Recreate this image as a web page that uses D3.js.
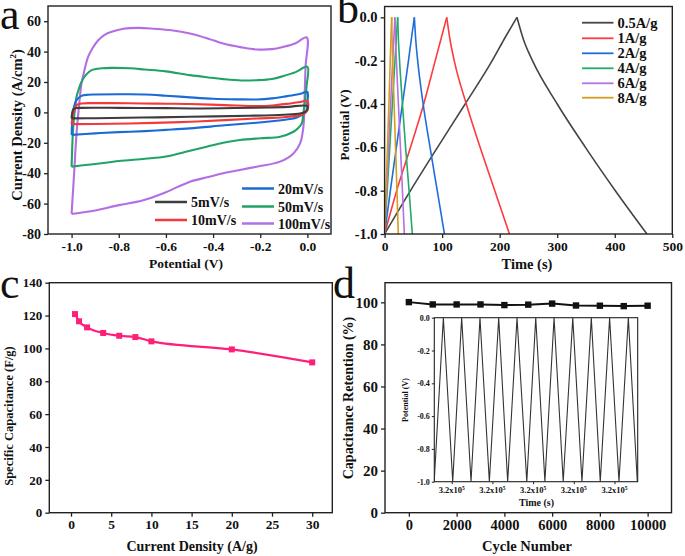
<!DOCTYPE html>
<html><head><meta charset="utf-8">
<script src="https://cdn.jsdelivr.net/npm/d3@7"></script>
<style>
body{margin:0;background:#fff}
svg{display:block}
text{font-family:"Liberation Serif","Times New Roman",serif;font-weight:bold;fill:#111}
</style>
</head><body>
<svg id="fig" width="685" height="556"></svg>
<script>
// ---------------- DATA ----------------
// (a) CV loops: [potential V, current density]
const cvLabels = ["5mV/s","10mV/s","20mV/s","50mV/s","100mV/s"];
const cv5 = [[-1.0,-3.9],[-0.998,-1],[-0.993,2.0],[-0.985,2.8],[-0.96,3.0],[-0.8,3.0],[-0.6,2.8],[-0.477,2.6],[-0.3,2.9],[-0.1,3.5],[0,4.1],[-0.003,1.5],[-0.01,0.4],[-0.031,-0.7],[-0.1,-1.5],[-0.25,-2.2],[-0.498,-2.9],[-0.7,-3.4],[-0.9,-3.8],[-1.0,-3.9]];
const cv10 = [[-1.0,-7.7],[-0.996,-3],[-0.993,-0.7],[-0.985,3],[-0.979,4.8],[-0.958,5.9],[-0.9,6.1],[-0.83,6.1],[-0.7,5.9],[-0.6,5.7],[-0.498,5.5],[-0.35,4.8],[-0.215,4.1],[-0.15,4.5],[-0.073,5.9],[-0.03,6.8],[0,7.6],[0,1.5],[-0.015,-0.8],[-0.031,-1.8],[-0.1,-3.2],[-0.215,-4],[-0.35,-5.1],[-0.498,-6.2],[-0.65,-6.9],[-0.83,-7.5],[-1.0,-7.7]];
const cv20 = [[-1.0,-14.8],[-0.997,-5],[-0.993,1.5],[-0.979,8.1],[-0.958,10.9],[-0.93,11.6],[-0.901,11.8],[-0.8,11.9],[-0.689,11.8],[-0.6,11],[-0.498,9.9],[-0.4,9],[-0.3,8.6],[-0.215,8.5],[-0.15,9.2],[-0.102,10.3],[-0.05,11.6],[-0.024,12.5],[0,13.5],[-0.001,5],[0,1.5],[-0.012,-0.5],[-0.024,-1.8],[-0.045,-3.3],[-0.073,-4.4],[-0.15,-5.8],[-0.215,-6.8],[-0.35,-8.5],[-0.498,-10.5],[-0.6,-11.5],[-0.689,-12.3],[-0.8,-13],[-0.901,-13.8],[-1.0,-14.8]];
const cv50 = [[-1.0,-35.7],[-0.993,-9.5],[-0.985,3],[-0.979,10.3],[-0.968,16],[-0.958,20.1],[-0.94,24.5],[-0.915,27.8],[-0.87,29],[-0.83,29.3],[-0.75,29],[-0.689,28.2],[-0.6,27],[-0.498,24.5],[-0.42,23],[-0.357,21.9],[-0.28,21],[-0.215,21.2],[-0.15,22],[-0.102,23.9],[-0.05,26.5],[0,30],[-0.003,18],[-0.01,8],[-0.018,-2],[-0.024,-7.2],[-0.04,-10.5],[-0.059,-12.7],[-0.116,-16],[-0.2,-17],[-0.286,-18.2],[-0.357,-20],[-0.427,-22.6],[-0.498,-25.2],[-0.6,-29],[-0.689,-30.5],[-0.8,-32],[-0.9,-34],[-1.0,-35.7]];
const cv100 = [[-1.0,-66.8],[-0.99,-42],[-0.979,-13.8],[-0.968,5],[-0.958,19],[-0.945,28],[-0.93,36.5],[-0.91,42.5],[-0.887,47.5],[-0.86,51],[-0.83,53],[-0.78,55],[-0.717,55.6],[-0.65,55],[-0.576,54],[-0.498,51.9],[-0.42,48.5],[-0.357,45.3],[-0.28,42.8],[-0.215,41.4],[-0.15,41.6],[-0.102,43.1],[-0.05,45.5],[-0.003,49.3],[-0.008,30],[-0.012,10],[-0.017,-9.4],[-0.031,-20.4],[-0.059,-27],[-0.116,-32.4],[-0.215,-35.7],[-0.357,-40],[-0.42,-42.5],[-0.498,-45.6],[-0.6,-52.5],[-0.7,-58],[-0.8,-61],[-0.9,-64.5],[-1.0,-66.8]];
const aXTicks = [-1.0,-0.8,-0.6,-0.4,-0.2,0.0];
const aYTicks = [-80,-60,-40,-20,0,20,40,60];

// (b) GCD curves: potential levels and times (s)
const gcdLabels = ["0.5A/g","1A/g","2A/g","4A/g","6A/g","8A/g"];
const chargeV = [-1,-0.8,-0.6,-0.4,-0.2,-0.1,0];
const dischargeV = [0,-0.1,-0.2,-0.4,-0.6,-0.8,-1];
const charge05 = [0,45,92,140,187,208,230];
const discharge05 = [230,241,257,300,349,401,456];
const charge1 = [0,21,45,68,88,98,108];
const discharge1 = [108,113.5,121,142,166,191.5,217];
const charge2 = [0,10,20.5,31,41.5,46.5,51.7];
const discharge2 = [51.7,54,57.5,67,79,91.5,104];
const charge4 = [0,4.5,9,13.5,18,20.3,22.7];
const discharge4 = [22.7,24,26,31,36.5,42.5,48.2];
const charge6 = [0,3.5,7,10.5,14,16,18];
const discharge6 = [18,19,20.5,24,27.5,31,34.3];
const charge8 = [0,2.5,5,7.5,9.8,11,12.3];
const discharge8 = [12.3,13,14,16.5,19,21.5,23.8];
const bXTicks = [0,100,200,300,400,500];
const bYTicks = [-1.0,-0.8,-0.6,-0.4,-0.2,0.0];

// (c) rate capability
const currentDensity = [0.5,1,2,4,6,8,10,20,30];
const capacitance = [120.9,116.5,112.8,109.4,107.7,106.9,104.3,99.4,91.5];
const cXTicks = [0,5,10,15,20,25,30];
const cYTicks = [0,20,40,60,80,100,120,140];

// (d) cycling
const cycles = [0,1000,2000,3000,4000,5000,6000,7000,8000,9000,10000];
const retention = [100.1,99.0,99.0,99.0,98.7,98.9,99.4,98.5,98.4,98.2,98.4];
const dXTicks = [0,2000,4000,6000,8000,10000];
const dYTicks = [0,20,40,60,80,100];
// inset GCD cycling
const insetT = [319514,319559,319605,319649,319695,319739,319785,319831,319875,319921,319969,320013,320058,320103,320148,320195,320240,320286,320330,320376,320422,320468,320512];
const insetV = [-1,0,-1,0,-1,0,-1,0,-1,0,-1,0,-1,0,-1,0,-1,0,-1,0,-1,0,-1];
const insetXTicks = [319600,319800,320000,320200,320400];
const insetYTicks = [-1.0,-0.8,-0.6,-0.4,-0.2,0.0];

// ---------------- DRAW ----------------
const svg = d3.select("#fig");
const FONT = '"Liberation Serif","Times New Roman",serif';
const defs = svg.append("defs");

function clip(id, x0, y0, x1, y1){
  defs.append("clipPath").attr("id", id).append("rect")
    .attr("x", x0).attr("y", y0).attr("width", x1 - x0).attr("height", y1 - y0);
  return "url(#" + id + ")";
}
function frame(x0, y0, x1, y1, sw){
  svg.append("rect").attr("x", x0).attr("y", y0).attr("width", x1 - x0).attr("height", y1 - y0)
    .attr("fill", "none").attr("stroke", "#222").attr("stroke-width", sw || 1.4);
}
function axes(xs, ys, xt, yt, xfmt, yfmt, fsx, fsy){
  const [x0, x1] = xs.range(); const [y1, y0] = ys.range();
  const gx = svg.append("g").attr("transform", `translate(0,${y1})`)
    .call(d3.axisBottom(xs).tickValues(xt).tickFormat(xfmt).tickSize(4).tickPadding(3));
  const gy = svg.append("g").attr("transform", `translate(${x0},0)`)
    .call(d3.axisLeft(ys).tickValues(yt).tickFormat(yfmt).tickSize(4).tickPadding(3));
  [[gx, fsx], [gy, fsy]].forEach(([g, fs]) => {
    g.select(".domain").remove();
    g.attr("font-family", FONT).attr("font-size", fs).attr("font-weight", "bold");
    g.selectAll("line").attr("stroke", "#222").attr("stroke-width", 1.3);
    g.selectAll("text").attr("fill", "#111").style("font-weight", "bold");
  });
  return [gx, gy];
}
function title(txt, x, y, fs, rot){
  const t = svg.append("text").attr("text-anchor", "middle").attr("font-size", fs).text(txt);
  if (rot) t.attr("transform", `translate(${x},${y}) rotate(-90)`);
  else t.attr("x", x).attr("y", y);
  return t;
}
function panelLabel(txt, x, y, fs){
  svg.append("text").attr("x", x).attr("y", y).attr("font-size", fs || 44)
    .style("font-weight", "normal").text(txt);
}

// ===== Panel a =====
{
  const xs = d3.scaleLinear([-1.1, 0.1], [48, 331]);
  const ys = d3.scaleLinear([-80, 70], [234, 6]);
  const cp = clip("ca", 48, 6, 331, 234);
  const colors = ["#3d3d3d", "#f2393c", "#1a6bd6", "#21a366", "#b46ee3"];
  const loops = [cv5, cv10, cv20, cv50, cv100];
  const line = d3.line().x(d => xs(d[0])).y(d => ys(d[1])).curve(d3.curveCatmullRom.alpha(0.5));
  const g = svg.append("g").attr("clip-path", cp);
  [4, 3, 2, 1, 0].forEach(i => {
    g.append("path").attr("d", line(loops[i])).attr("fill", "none")
      .attr("stroke", colors[i]).attr("stroke-width", 2.1).attr("stroke-linejoin", "round");
  });
  axes(xs, ys, aXTicks, aYTicks, d => d.toFixed(1), d => String(d), 13.5, 14);
  frame(48, 6, 331, 234);
  const leg = [
    {i:0, x:155, y:202}, {i:1, x:155, y:220},
    {i:2, x:242, y:188.5}, {i:3, x:242, y:206.5}, {i:4, x:242, y:223.5}
  ];
  leg.forEach(l => {
    svg.append("line").attr("x1", l.x).attr("x2", l.x + 32).attr("y1", l.y).attr("y2", l.y)
      .attr("stroke", colors[l.i]).attr("stroke-width", 2.5);
    svg.append("text").attr("x", l.x + 36).attr("y", l.y + 5).attr("font-size", 14).text(cvLabels[l.i]);
  });
  title("Potential (V)", 186, 268, 13.5);
  const yt = svg.append("text").attr("text-anchor", "middle").attr("font-size", 14.5)
    .attr("transform", "translate(22,125) rotate(-90)");
  yt.append("tspan").text("Current Density (A/cm");
  yt.append("tspan").attr("font-size", 9).attr("dy", -6).text("2");
  yt.append("tspan").attr("dy", 6).text(")");
  panelLabel("a", 0, 29);
}

// ===== Panel b =====
{
  const xs = d3.scaleLinear([0, 500], [384.6, 672.3]);
  const ys = d3.scaleLinear([-1.0, 0.05], [234, 6.5]);
  const cp = clip("cb", 384.6, 6.5, 672.3, 234);
  const colors = ["#454545", "#ff3a3e", "#1d6ed8", "#22aa68", "#b571e2", "#d39d1f"];
  const charges = [charge05, charge1, charge2, charge4, charge6, charge8];
  const discharges = [discharge05, discharge1, discharge2, discharge4, discharge6, discharge8];
  const line = d3.line().x(d => xs(d[0])).y(d => ys(d[1])).curve(d3.curveMonotoneX);
  const g = svg.append("g").attr("clip-path", cp);
  [0, 1, 2, 3, 4, 5].forEach(i => {
    const c = charges[i].map((t, k) => [t, chargeV[k]]);
    const d = discharges[i].map((t, k) => [t, dischargeV[k]]);
    g.append("path").attr("d", line(c)).attr("fill", "none").attr("stroke", colors[i]).attr("stroke-width", 1.6);
    g.append("path").attr("d", line(d)).attr("fill", "none").attr("stroke", colors[i]).attr("stroke-width", 1.6);
  });
  axes(xs, ys, bXTicks, bYTicks, d => String(d), d => d.toFixed(1), 13.5, 14.5);
  frame(384.6, 6.5, 672.3, 234);
  gcdLabels.forEach((lab, i) => {
    const y = [22.7, 38.3, 53.3, 68.3, 83.3, 97.7][i];
    svg.append("line").attr("x1", 582).attr("x2", 613.5).attr("y1", y).attr("y2", y)
      .attr("stroke", colors[i]).attr("stroke-width", 1.8);
    svg.append("text").attr("x", 617.5).attr("y", y + 5).attr("font-size", 14.5).text(lab);
  });
  title("Time (s)", 527, 269, 14.5);
  title("Potential (V)", 349, 125, 13, true);
  panelLabel("b", 337, 23);
}

// ===== Panel c =====
{
  const xs = d3.scaleLinear([-2.7, 32.5], [49.3, 332.3]);
  const ys = d3.scaleLinear([0, 140], [512.7, 282.7]);
  const col = "#ff1f78";
  const pts = currentDensity.map((x, i) => [x, capacitance[i]]);
  const line = d3.line().x(d => xs(d[0])).y(d => ys(d[1])).curve(d3.curveMonotoneX);
  svg.append("path").attr("d", line(pts)).attr("fill", "none").attr("stroke", col).attr("stroke-width", 2.2);
  svg.append("g").selectAll("rect").data(pts).join("rect")
    .attr("x", d => xs(d[0]) - 3).attr("y", d => ys(d[1]) - 3).attr("width", 6).attr("height", 6).attr("fill", col);
  axes(xs, ys, cXTicks, cYTicks, d => String(d), d => String(d), 13.5, 13);
  frame(49.3, 282.7, 332.3, 512.7);
  title("Current Density (A/g)", 192, 551, 14);
  title("Specific Capacitance (F/g)", 12.5, 416, 12.5, true);
  panelLabel("c", 0, 298);
}

// ===== Panel d =====
{
  const xs = d3.scaleLinear([-1000, 11000], [385, 671.5]);
  const ys = d3.scaleLinear([0, 110], [512.7, 281.3]);
  const pts = cycles.map((x, i) => [x, retention[i]]);
  const line = d3.line().x(d => xs(d[0])).y(d => ys(d[1]));
  svg.append("path").attr("d", line(pts)).attr("fill", "none").attr("stroke", "#111").attr("stroke-width", 2);
  svg.append("g").selectAll("rect").data(pts).join("rect")
    .attr("x", d => xs(d[0]) - 3.2).attr("y", d => ys(d[1]) - 3.2).attr("width", 6.4).attr("height", 6.4).attr("fill", "#111");
  axes(xs, ys, dXTicks, dYTicks, d => String(d), d => String(d), 14.5, 15);
  frame(385, 282.7, 671.5, 512.7);
  title("Cycle Number", 527, 551, 14.5);
  title("Capacitance Retention (%)", 352.5, 398, 14, true);
  panelLabel("d", 333, 298);

  // inset
  const ix = d3.scaleLinear([319514.5, 320514], [434.3, 637.7]);
  const iy = d3.scaleLinear([-1, 0], [481.7, 317.7]);
  const cp = clip("ci", 434.3, 317.7, 637.7, 481.7);
  const ipts = insetT.map((t, i) => [t, insetV[i]]);
  svg.append("path").attr("clip-path", cp)
    .attr("d", d3.line().x(d => ix(d[0])).y(d => iy(d[1]))(ipts))
    .attr("fill", "none").attr("stroke", "#333").attr("stroke-width", 1.1);
  const gy = svg.append("g").attr("transform", "translate(434.3,0)")
    .call(d3.axisLeft(iy).tickValues(insetYTicks).tickFormat(d => d.toFixed(1)).tickSize(2.5).tickPadding(2));
  gy.select(".domain").remove();
  gy.attr("font-family", FONT).attr("font-size", 8).attr("font-weight", "bold");
  gy.selectAll("line").attr("stroke", "#222");
  gy.selectAll("text").style("font-weight", "bold");
  const gx = svg.append("g").attr("transform", "translate(0,481.7)")
    .call(d3.axisBottom(ix).tickValues(insetXTicks).tickFormat("").tickSize(2.5));
  gx.select(".domain").remove();
  gx.selectAll("line").attr("stroke", "#222");
  insetXTicks.forEach(t => {
    const tx = svg.append("text").attr("x", ix(t)).attr("y", 493).attr("text-anchor", "middle").attr("font-size", 8.5);
    tx.append("tspan").text("3.2x10");
    tx.append("tspan").attr("font-size", 5.5).attr("dy", -3.5).text("5");
  });
  frame(434.3, 317.7, 637.7, 481.7, 1.1);
  title("Time (s)", 536.5, 506, 10);
  title("Potential (V)", 408, 400, 8, true);
}
</script>
</body></html>
